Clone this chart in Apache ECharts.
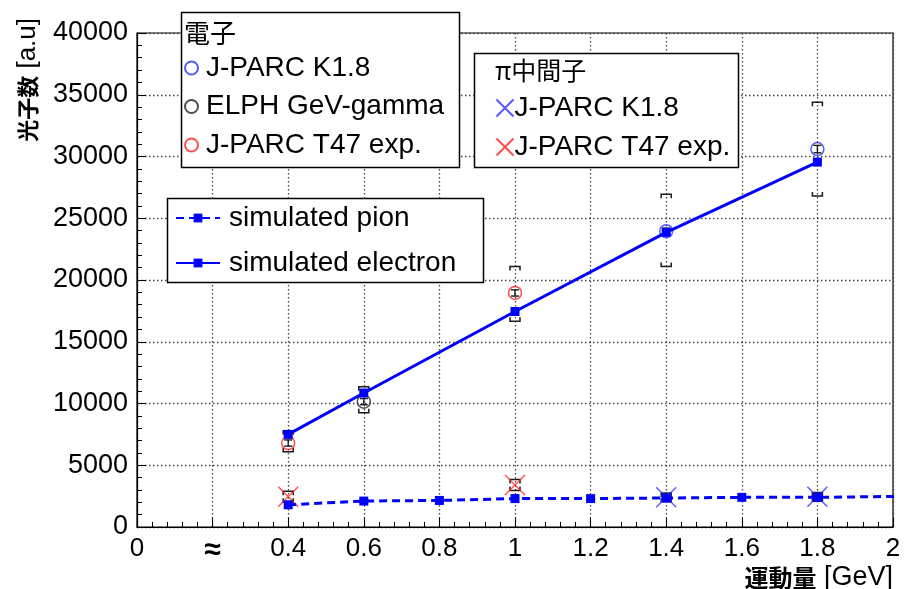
<!DOCTYPE html>
<html>
<head>
<meta charset="utf-8">
<script src="https://cdn.jsdelivr.net/npm/echarts@6/dist/echarts.min.js"></script>
<style>
  html, body { margin: 0; padding: 0; background: #ffffff; }
  #chart { width: 904px; height: 589px; }
</style>
</head>
<body>
<div id="chart"></div>
<script>
// ---- momentum axis tick labels (0.2 is replaced by a break mark) ----
const xTickLabels = ['0', '≈', '0.4', '0.6', '0.8', '1', '1.2', '1.4', '1.6', '1.8', '2'];

// ---- simulation curves ----
const simPionP = [0.4, 0.6, 0.8, 1.0, 1.2, 1.4, 1.6, 1.8, 2.2];
const simPionN = [1800, 2100, 2150, 2300, 2300, 2350, 2400, 2400, 2550];
const simElecP = [0.4, 0.6, 1.0, 1.4, 1.8];
const simElecN = [7500, 10850, 17450, 23860, 29550];

// ---- electron measurements ----
const eK18P = [1.4, 1.8];
const eK18N = [23950, 30600];
const eK18Stat = [250, 300];
const eK18SysLo = [21100, 26800];
const eK18SysHi = [26950, 34400];

const eElphP = [0.6];
const eElphN = [10150];
const eElphStat = [250];
const eElphSysLo = [9250];
const eElphSysHi = [11350];

const eT47P = [0.4, 1.0];
const eT47N = [6800, 18950];
const eT47Stat = [250, 250];
const eT47SysLo = [6100, 16650];
const eT47SysHi = [7800, 21100];

// ---- pion measurements ----
const piK18P = [1.4, 1.8];
const piK18N = [2400, 2450];
const piK18SysLo = [2050, 2100];
const piK18SysHi = [2750, 2800];

const piT47P = [0.4, 1.0];
const piT47N = [2450, 3400];
const piT47SysLo = [2000, 2950];
const piT47SysHi = [2900, 3850];

// legend captions
const legendText = {
  eK18: 'J-PARC K1.8',
  eElph: 'ELPH GeV-gamma',
  eT47: 'J-PARC T47 exp.',
  piK18: 'J-PARC K1.8',
  piT47: 'J-PARC T47 exp.',
  simPion: 'simulated pion',
  simElec: 'simulated electron'
};

const zip = (xs, ys) => xs.map((x, i) => [x, ys[i]]);
const zip3 = (xs, a, b) => xs.map((x, i) => [x, a[i], b[i]]);

const LATIN = 'Liberation Sans, Arial, Helvetica, sans-serif';
const CJK = 'Noto Sans CJK JP, sans-serif';
const BLUE = '#0000ff';
const CBLUE = '#3030ff';
const RED = '#ff2020';
const INK = '#1a1a1a';

// systematic-error brackets: [x, low, high]
function bracketItem(params, api) {
  const x = api.value(0);
  const pHi = api.coord([x, api.value(2)]);
  const pLo = api.coord([x, api.value(1)]);
  const w = 5, h = 4;
  const st = { stroke: INK, lineWidth: 1.5, fill: null };
  return {
    type: 'group',
    children: [
      { type: 'polyline', shape: { points: [[pHi[0] - w, pHi[1] + h], [pHi[0] - w, pHi[1]], [pHi[0] + w, pHi[1]], [pHi[0] + w, pHi[1] + h]] }, style: st },
      { type: 'polyline', shape: { points: [[pLo[0] - w, pLo[1] - h], [pLo[0] - w, pLo[1]], [pLo[0] + w, pLo[1]], [pLo[0] + w, pLo[1] - h]] }, style: st }
    ]
  };
}

// statistical error bars: [x, y, err]
function errItem(params, api) {
  const x = api.value(0), y = api.value(1), e = api.value(2);
  const pHi = api.coord([x, y + e]);
  const pLo = api.coord([x, y - e]);
  const c = 4;
  const st = { stroke: INK, lineWidth: 1.4 };
  return {
    type: 'group',
    children: [
      { type: 'line', shape: { x1: pHi[0], y1: pHi[1], x2: pLo[0], y2: pLo[1] }, style: st },
      { type: 'line', shape: { x1: pHi[0] - c, y1: pHi[1], x2: pHi[0] + c, y2: pHi[1] }, style: st },
      { type: 'line', shape: { x1: pLo[0] - c, y1: pLo[1], x2: pLo[0] + c, y2: pLo[1] }, style: st }
    ]
  };
}

const CROSS = 'path://M0,0L10,10M10,0L0,10';

const bracketData = []
  .concat(zip3(eK18P, eK18SysLo, eK18SysHi))
  .concat(zip3(eElphP, eElphSysLo, eElphSysHi))
  .concat(zip3(eT47P, eT47SysLo, eT47SysHi))
  .concat(zip3(piK18P, piK18SysLo, piK18SysHi))
  .concat(zip3(piT47P, piT47SysLo, piT47SysHi));

const errData = []
  .concat(zip3(eK18P, eK18N, eK18Stat))
  .concat(zip3(eElphP, eElphN, eElphStat))
  .concat(zip3(eT47P, eT47N, eT47Stat));

const chart = echarts.init(document.getElementById('chart'), null, { renderer: 'canvas' });

const legendBase = {
  orient: 'vertical',
  selectedMode: false,
  padding: 0,
  formatter: (name) => legendText[name],
  textStyle: { fontFamily: LATIN, fontSize: 28, color: '#000', lineHeight: 30 }
};

chart.setOption({
  animation: false,
  backgroundColor: '#ffffff',
  grid: {
    left: 137, top: 33, width: 756, height: 494,
    show: true, borderColor: '#000', borderWidth: 1.2, backgroundColor: 'transparent'
  },
  xAxis: {
    type: 'value', min: 0, max: 2, interval: 0.2,
    axisLine: { show: true, lineStyle: { color: '#000', width: 1.2 } },
    axisTick: { show: true, inside: true, length: 9, lineStyle: { color: '#000' } },
    minorTick: { show: true, splitNumber: 5, length: 5, lineStyle: { color: '#000' } },
    splitLine: { show: true, lineStyle: { color: '#444', width: 1.3, type: [1.5, 2.5] } },
    axisLabel: {
      fontFamily: LATIN, fontSize: 26, color: '#000', margin: 9,
      formatter: (v) => {
        const i = Math.round(v / 0.2);
        return i === 1 ? '{brk|' + xTickLabels[i] + '}' : xTickLabels[i];
      },
      rich: { brk: { fontFamily: LATIN, fontSize: 30, fontWeight: 'bold', color: '#000' } }
    }
  },
  yAxis: {
    type: 'value', min: 0, max: 40000, interval: 5000,
    axisLine: { show: true, lineStyle: { color: '#000', width: 1.2 } },
    axisTick: { show: true, inside: true, length: 9, lineStyle: { color: '#000' } },
    minorTick: { show: true, splitNumber: 5, length: 5, lineStyle: { color: '#000' } },
    splitLine: { show: true, lineStyle: { color: '#444', width: 1.3, type: [1.5, 2.5] } },
    axisLabel: {
      fontFamily: LATIN, fontSize: 27, color: '#000', margin: 9,
      formatter: (v) => String(Math.round(v))
    }
  },
  legend: [
    Object.assign({}, legendBase, {
      left: 184, top: 53, itemWidth: 13, itemHeight: 13, itemGap: 8.5,
      textStyle: Object.assign({}, legendBase.textStyle, { padding: [0, 0, 0, 3] }),
      data: ['eK18', 'eElph', 'eT47'], z: 20
    }),
    Object.assign({}, legendBase, {
      left: 494, top: 93, itemWidth: 17, itemHeight: 17, itemGap: 9,
      textStyle: Object.assign({}, legendBase.textStyle, { padding: [0, 0, 0, -4] }),
      data: ['piK18', 'piT47'], z: 20
    }),
    Object.assign({}, legendBase, {
      left: 175, top: 203, itemWidth: 44, itemHeight: 11, itemGap: 15,
      textStyle: Object.assign({}, legendBase.textStyle, { padding: [0, 0, 0, 4] }),
      data: ['simPion', 'simElec'], z: 20
    })
  ],
  graphic: [
    // legend frames and headers
    { type: 'rect', z: 10, shape: { x: 181.5, y: 12.5, width: 278, height: 155 }, style: { fill: '#fff', stroke: '#000', lineWidth: 1.5 } },
    { type: 'text', z: 11, x: 184, y: 33, style: { text: '電子', font: '400 26px ' + CJK, fill: '#000', verticalAlign: 'middle' } },
    { type: 'rect', z: 10, shape: { x: 474.5, y: 53.5, width: 264, height: 114 }, style: { fill: '#fff', stroke: '#000', lineWidth: 1.5 } },
    { type: 'text', z: 11, x: 495, y: 70, style: { text: 'π中間子', font: '400 25px ' + CJK, fill: '#000', verticalAlign: 'middle' } },
    { type: 'rect', z: 10, shape: { x: 167.5, y: 198.5, width: 316, height: 84 }, style: { fill: '#fff', stroke: '#000', lineWidth: 1.5 } },
    // axis titles
    {
      type: 'text', z: 11, x: 28, y: 18, rotation: Math.PI / 2,
      style: {
        text: '{c|光子数}{l| [a.u]}', align: 'right', verticalAlign: 'middle',
        rich: {
          c: { fontFamily: CJK, fontWeight: 'bold', fontSize: 22, fill: '#000' },
          l: { fontFamily: LATIN, fontSize: 26, fill: '#000' }
        }
      }
    },
    {
      type: 'text', z: 11, x: 893, y: 578,
      style: {
        text: '{c|運動量}{l| [GeV]}', align: 'right', verticalAlign: 'middle',
        rich: {
          c: { fontFamily: CJK, fontWeight: 'bold', fontSize: 24, fill: '#000' },
          l: { fontFamily: LATIN, fontSize: 27, fill: '#000' }
        }
      }
    }
  ],
  series: [
    {
      type: 'custom', name: 'sys', renderItem: bracketItem, data: bracketData,
      encode: { x: 0, y: [1, 2] }, z: 2, silent: true
    },
    {
      type: 'scatter', name: 'eK18', data: zip(eK18P, eK18N), symbol: 'circle', symbolSize: 13, z: 3,
      itemStyle: { color: 'rgba(0,0,0,0)', borderColor: CBLUE, borderWidth: 1.5 }
    },
    {
      type: 'scatter', name: 'eElph', data: zip(eElphP, eElphN), symbol: 'circle', symbolSize: 13, z: 3,
      itemStyle: { color: 'rgba(0,0,0,0)', borderColor: '#222', borderWidth: 1.5 }
    },
    {
      type: 'scatter', name: 'eT47', data: zip(eT47P, eT47N), symbol: 'circle', symbolSize: 13, z: 3,
      itemStyle: { color: 'rgba(0,0,0,0)', borderColor: RED, borderWidth: 1.5 }
    },
    {
      type: 'custom', name: 'stat', renderItem: errItem, data: errData,
      encode: { x: 0, y: 1 }, z: 4, silent: true
    },
    {
      type: 'scatter', name: 'piK18', data: zip(piK18P, piK18N), symbol: CROSS, symbolSize: 20, z: 4,
      itemStyle: { color: 'none', borderColor: CBLUE, borderWidth: 1.4 }
    },
    {
      type: 'scatter', name: 'piT47', data: zip(piT47P, piT47N), symbol: CROSS, symbolSize: 20, z: 4,
      itemStyle: { color: 'none', borderColor: RED, borderWidth: 1.4 }
    },
    {
      type: 'line', name: 'simPion', data: zip(simPionP, simPionN), z: 5,
      symbol: 'rect', symbolSize: 9, showAllSymbol: true, clip: true,
      itemStyle: { color: BLUE },
      lineStyle: { color: BLUE, width: 3, type: [8, 5] }
    },
    {
      type: 'line', name: 'simElec', data: zip(simElecP, simElecN), z: 5,
      symbol: 'rect', symbolSize: 9, showAllSymbol: true, clip: true,
      itemStyle: { color: BLUE },
      lineStyle: { color: BLUE, width: 3 }
    }
  ]
});
</script>
</body>
</html>
